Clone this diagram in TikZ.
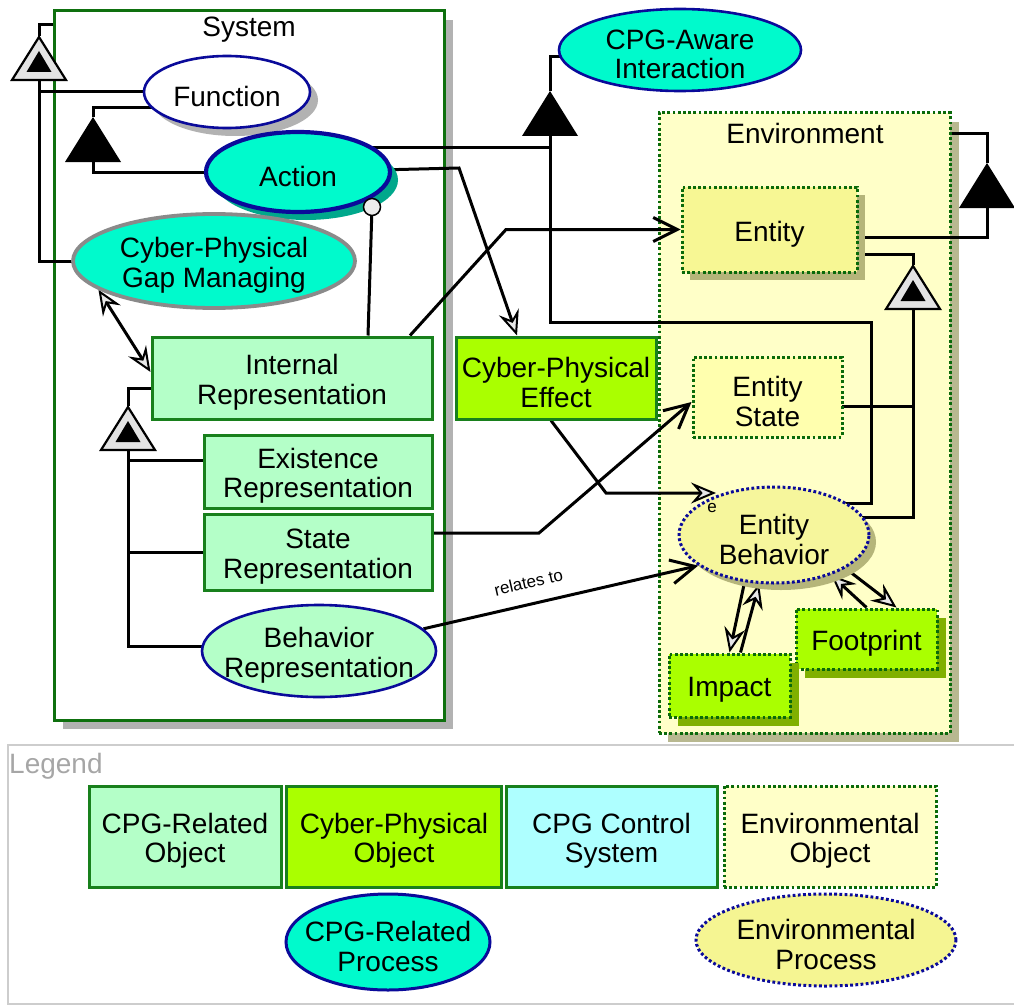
\documentclass[tikz,border=0pt]{standalone}
\usepackage{fontspec}
\setmainfont{Liberation Sans}
\usetikzlibrary{shapes.geometric,arrows.meta,shadows,calc}

\definecolor{objgreen}{HTML}{18801C}
\definecolor{dotgreen}{HTML}{0A6A0A}
\definecolor{sysgreen}{HTML}{0E700E}
\definecolor{cpggreen}{HTML}{B4FFC8}
\definecolor{cpgreen}{HTML}{AAFF00}
\definecolor{ctrlcyan}{HTML}{AEFFFF}
\definecolor{aqua}{HTML}{00FACC}
\definecolor{navy}{HTML}{0A0A9A}
\definecolor{cpggrey}{HTML}{8A8A8A}
\definecolor{envbg}{HTML}{FFFFC8}
\definecolor{envobjfill}{HTML}{F7F794}
\definecolor{envstate}{HTML}{FFFFAE}
\definecolor{envproc}{HTML}{F6F69C}
\definecolor{envproclg}{HTML}{F5F592}
\definecolor{oliveshadow}{HTML}{B5B57A}
\definecolor{envshadow}{HTML}{B8B890}
\definecolor{greyshadow}{HTML}{B2B2B2}
\definecolor{tealshadow}{HTML}{00A88C}
\definecolor{limeshadow}{HTML}{80B000}
\definecolor{legendgrey}{HTML}{A6A6A6}
\definecolor{legendline}{HTML}{CDCDCD}

\pgfdeclarelayer{boxes}
\pgfdeclarelayer{links}
\pgfsetlayers{boxes,links,main}

\tikzset{
  lbl/.style={font=\fontsize{28}{29.5}\selectfont, align=center, inner sep=0pt, text=black},
  small/.style={font=\fontsize{17}{17}\selectfont, inner sep=0pt, text=black},
  txt/.style={label={[lbl, yshift=-4.5pt]center:#1}},
  shadowed/.style 2 args={drop shadow={shadow xshift=#1, shadow yshift=-#1, opacity=1, fill=#2}},
  objbox/.style={rectangle, draw=objgreen, line width=3pt, inner sep=0pt},
  cpgobj/.style={objbox, fill=cpggreen},
  cpobj/.style={objbox, fill=cpgreen},
  ctrlobj/.style={objbox, fill=ctrlcyan},
  envdots/.style={dash pattern=on 2.8pt off 2.4pt},
  envobj/.style={rectangle, draw=dotgreen, line width=3pt, envdots, inner sep=0pt},
  proc/.style={ellipse, inner sep=0pt, draw=navy, line width=2.6pt},
  hollowtip/.tip={Stealth[length=25pt, width=21pt, inset=9pt, fill=gray!18, color=black, line width=2pt]},
  bartip/.tip={Straight Barb[length=24pt, width=24pt]},
  conn/.style={draw=black, line width=3pt},
  effect/.style={conn, -hollowtip},
  effectboth/.style={conn, hollowtip-hollowtip},
  tagged/.style={conn, -bartip},
  aggtri/.pic={
    \fill[black] (0,0) -- (-28,45) -- (28,45) -- cycle;
    \coordinate (-top) at (0,0);
    \coordinate (-bot) at (0,45);
  },
  exhtri/.pic={
    \draw[fill=gray!22, line width=2.2pt] (0,1) -- (-27,44) -- (27,44) -- cycle;
    \fill[black] (0,15) -- (-12.5,36) -- (12.5,36) -- cycle;
    \coordinate (-top) at (0,0);
    \coordinate (-bot) at (0,44);
  },
}

\begin{document}
\begin{tikzpicture}[x=1pt, y=-1pt, line join=miter]
\useasboundingbox (0,0) rectangle (1014,1006);

% containers
\begin{pgfonlayer}{boxes}
  \node[draw=sysgreen, line width=3pt, fill=white, inner sep=0pt,
        minimum width=390pt, minimum height=709pt, shadowed={9pt}{greyshadow}] (system) at (249,365.5) {};
  \node[draw=dotgreen, line width=3pt, envdots, fill=envbg, inner sep=0pt,
        minimum width=291pt, minimum height=620pt, shadowed={9pt}{envshadow}] (env) at (804.5,423) {};
  \node[draw=legendline, line width=2.4pt, inner sep=0pt,
        minimum width=1022pt, minimum height=259pt] (legend) at (519,874.5) {};
\end{pgfonlayer}

\node[lbl] (systitle) at (249,30) {System};
\node[lbl] (envtitle) at (805,133) {Environment};
\node[lbl, anchor=west, text=legendgrey] (legendtitle) at (9,766) {Legend};

% system side
\node[proc, txt={Function}, fill=white, minimum width=166pt, minimum height=72pt,
      shadowed={8pt}{greyshadow}] (func) at (227,92) {};
\node[proc, txt={Action}, fill=aqua, line width=4.2pt, minimum width=184pt, minimum height=80pt,
      shadowed={8pt}{tealshadow}] (action) at (298,172) {};
\node[proc, txt={Cyber-Physical\\Gap Managing}, fill=aqua, draw=cpggrey, line width=3.8pt,
      minimum width=282pt, minimum height=94pt] (cpgm) at (214,261) {};
\node[proc, txt={CPG-Aware\\Interaction}, fill=aqua, minimum width=242pt, minimum height=82pt] (cpgai) at (680,50) {};
\node[cpgobj, txt={Internal\\Representation}, minimum width=280pt, minimum height=82pt] (ir) at (292,378) {};
\node[cpgobj, txt={Existence\\Representation}, minimum width=228pt, minimum height=73pt] (exist) at (318,471.5) {};
\node[cpgobj, txt={State\\Representation}, minimum width=228pt, minimum height=76pt] (state) at (318,552) {};
\node[proc, txt={Behavior\\Representation}, fill=cpggreen, minimum width=234pt, minimum height=92pt] (behrep) at (319,651) {};
\node[cpobj, txt={Cyber-Physical\\Effect}, minimum width=200pt, minimum height=82pt] (cpe) at (556,378) {};
\node[circle, draw=black, line width=1.5pt, fill=gray!15, minimum size=17pt, inner sep=0pt] (instr) at (372,207) {};

% environment side
\node[envobj, txt={Entity}, fill=envobjfill, minimum width=175pt, minimum height=85pt,
      shadowed={8pt}{oliveshadow}] (entity) at (769.5,229.5) {};
\node[envobj, txt={Entity\\State}, fill=envstate, minimum width=149pt, minimum height=80pt] (estate) at (767.5,397) {};
\node[proc, txt={Entity\\Behavior}, envdots, line width=3pt, fill=envproc, minimum width=190pt, minimum height=96pt,
      shadowed={7pt}{oliveshadow}] (eb) at (774,535) {};
\node[envobj, txt={Footprint}, fill=cpgreen, minimum width=141pt, minimum height=60pt,
      shadowed={9pt}{limeshadow}] (fp) at (866.5,639) {};
\node[envobj, txt={Impact}, fill=cpgreen, minimum width=121pt, minimum height=63pt,
      shadowed={9pt}{limeshadow}] (impact) at (729.5,685.5) {};
\node[small] (elbl) at (712,508) {e};

% legend entries
\node[cpgobj, txt={CPG-Related\\Object}, minimum width=192pt, minimum height=101pt] (lg1) at (185,836.5) {};
\node[cpobj, txt={Cyber-Physical\\Object}, minimum width=215pt, minimum height=101pt] (lg2) at (394,836.5) {};
\node[ctrlobj, txt={CPG Control\\System}, minimum width=211pt, minimum height=101pt] (lg3) at (611.5,836.5) {};
\node[envobj, txt={Environmental\\Object}, fill=envbg, minimum width=212pt, minimum height=101pt] (lg4) at (830,836.5) {};
\node[proc, txt={CPG-Related\\Process}, fill=aqua, line width=3pt, minimum width=204pt, minimum height=96pt] (lg5) at (388,942) {};
\node[proc, txt={Environmental\\Process}, envdots, line width=3pt, fill=envproclg, minimum width=260pt, minimum height=92pt] (lg6) at (826,940) {};

% structural link symbols
\pic (t1) at (39,36) {exhtri};
\pic (t2) at (93,117) {aggtri};
\pic (t3) at (550,91) {aggtri};
\pic (t4) at (128,406) {exhtri};
\pic (t5) at (987,163) {aggtri};
\pic (t6) at (913,265) {exhtri};

\coordinate (t1stub) at (39,25);
\coordinate (t3turn) at (871,322);
\coordinate (actknee) at (459,168);
\coordinate (irknee) at (506,229.5);
\coordinate (stknee) at (539,533);
\coordinate (cpeknee) at (606,493);
\coordinate (ebin) at (716,493);
\coordinate (t5stub) at (987,134);

\begin{pgfonlayer}{links}
  % System exhibits Function and Cyber-Physical Gap Managing
  \draw[conn] (t1-top) -- (t1stub) -- (t1stub -| system.west);
  \draw[conn] (t1-bot) |- (cpgm.center);
  \draw[conn] (t1-bot |- func.center) -- (func.center);
  % Function consists of Action
  \draw[conn] (t2-top) |- ([yshift=-16pt]func.center);
  \draw[conn] (t2-bot) |- (action.center);
  % CPG-Aware Interaction consists of Action and Entity Behavior
  \draw[conn] (t3-top) |- ([yshift=-7pt]cpgai.center);
  \draw[conn] ([yshift=25pt]action.center) -| (t3-bot);
  \draw[conn] (t3-bot) |- (t3turn) |- ([yshift=32pt]eb.center);
  % Action yields the cyber-physical effect
  \draw[effect] (action.center) -- (actknee) -- ([xshift=-39pt]cpe.north);
  % instrument
  \draw[conn] ([xshift=76pt]ir.north) -- (instr.center);
  % Internal Representation -> Entity
  \draw[tagged] ([xshift=118pt]ir.north) -- (irknee) -- (entity.west |- irknee);
  % gap managing <-> internal representation
  \draw[effectboth] (cpgm.194) -- ([yshift=6pt]ir.west);
  % Internal Representation exhibits its parts
  \draw[conn] (t4-top) |- ([yshift=-10pt]ir.center);
  \draw[conn] ([yshift=11pt]exist.center) -| (t4-bot);
  \draw[conn] (state.center) -| (t4-bot);
  \draw[conn] ([yshift=5pt]behrep.center) -| (t4-bot);
  % representations -> environment
  \draw[tagged] ([yshift=19pt]state.east) -- (stknee) -- ([yshift=-5pt]estate.west);
  \draw[effect] ([xshift=-5pt]cpe.south) -- (cpeknee) -- (ebin);
  \draw[tagged] (behrep.12) -- node[small, sloped, above=14pt, pos=0.4] (reltext) {relates to} (eb.202);
  % Entity Behavior <-> Impact, Footprint
  \draw[effect] (eb.238) -- (impact.north);
  \draw[effect] ([xshift=11pt]impact.north) -- (eb.253);
  \draw[effect] (eb.335) -- ([xshift=30pt]fp.north);
  \draw[effect] (fp.north) -- (eb.325);
  % Environment consists of Entity
  \draw[conn] (t5-top) -- (t5stub) -- (t5stub -| env.east);
  \draw[conn] (t5-bot) |- ([yshift=-8pt]entity.center);
  % Entity exhibits Entity State and Entity Behavior
  \draw[conn] (t6-top) |- ([yshift=-25pt]entity.center);
  \draw[conn] (t6-bot) |- ([yshift=18pt]eb.center);
  \draw[conn] ([yshift=-9pt]estate.center) -| (t6-bot);
\end{pgfonlayer}
\end{tikzpicture}
\end{document}
